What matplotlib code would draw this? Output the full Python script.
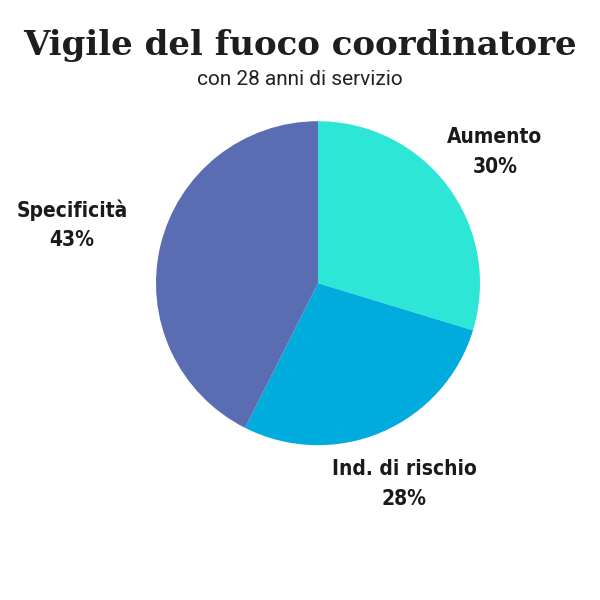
import numpy as np
import matplotlib.pyplot as plt

names = ['Aumento', 'Ind. di rischio', 'Specificità']
values = [30, 28, 43]
colors = ['#2ee6d6', '#00abde', '#5a6db3']
label_dist = [1.36, 1.35, 1.56]

fig = plt.figure(figsize=(6, 6), dpi=100)
fig.patch.set_facecolor('white')

fig.text(0.5, 0.925, 'Vigile del fuoco coordinatore', ha='center', va='center',
         fontsize=24.5, fontweight='bold', family='DejaVu Serif', color='#1e1e1e')
fig.text(0.5, 0.867, 'con 28 anni di servizio', ha='center', va='center',
         fontsize=15, family='Roboto', color='#222222')

ax = fig.add_axes([0.26, 0.258, 0.54, 0.54])
wedges, _ = ax.pie(values, colors=colors, startangle=90, counterclock=False,
                   wedgeprops=dict(linewidth=0))
ax.set_xlim(-1, 1)
ax.set_ylim(-1, 1)
ax.set_aspect('equal')

for w, name, v, d in zip(wedges, names, values, label_dist):
    mid = np.deg2rad((w.theta1 + w.theta2) / 2)
    x, y = d * np.cos(mid), d * np.sin(mid)
    ax.text(x, y, f'{name}\n{v}%', ha='center', va='center', fontsize=15,
            fontweight='heavy', family='DejaVu Sans', stretch='condensed',
            color='#1a1a1a', linespacing=1.6, clip_on=False)

fig.savefig('out.png', dpi=100, facecolor='white')
